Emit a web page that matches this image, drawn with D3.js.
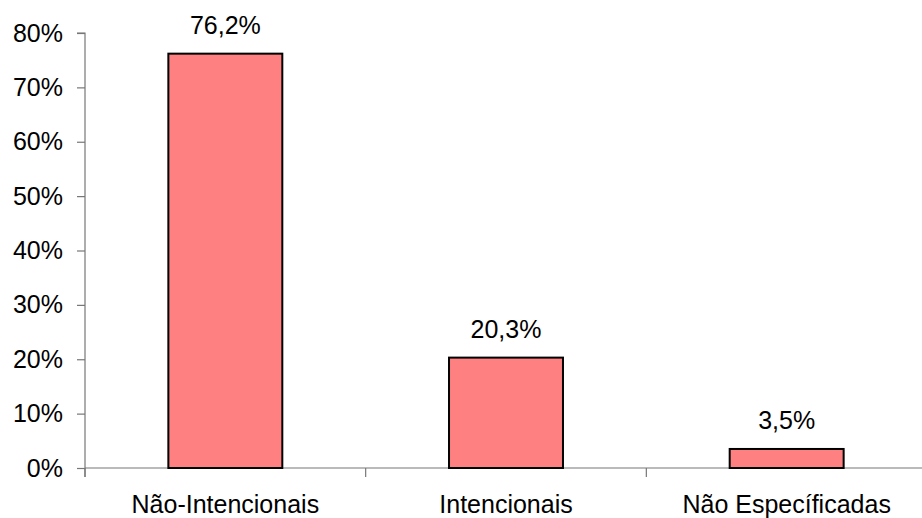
<!DOCTYPE html>
<html>
<head>
<meta charset="utf-8">
<script src="https://cdn.jsdelivr.net/npm/d3@7"></script>
<style>
  html, body { margin: 0; padding: 0; background: #fff; }
  svg { display: block; font-family: "Liberation Sans", Arial, sans-serif; }
</style>
</head>
<body>
<svg id="chart" width="922" height="518"></svg>
<script>
const categories = ["Não-Intencionais", "Intencionais", "Não Específicadas"];
const values = [0.762, 0.203, 0.035];
const valueLabels = ["76,2%", "20,3%", "3,5%"];
const yTicks = [0, 0.1, 0.2, 0.3, 0.4, 0.5, 0.6, 0.7, 0.8];

(function () {
  const svg = d3.select("#chart");
  const plotLeft = 85, plotRight = 927, plotTop = 33, plotBottom = 468;
  const fontSize = 25;

  const x = d3.scaleBand()
    .domain(categories)
    .range([plotLeft, plotRight])
    .paddingInner(0.594)
    .paddingOuter(0.297);

  const y = d3.scaleLinear().domain([0, 0.8]).range([plotBottom, plotTop]);

  const axisColor = "#777";

  // y axis
  const yAxis = d3.axisLeft(y)
    .tickValues(yTicks)
    .tickFormat(d => Math.round(d * 100) + "%")
    .tickSize(8)
    .tickPadding(14);
  const gy = svg.append("g").attr("transform", `translate(${plotLeft},0)`).call(yAxis);
  gy.select(".domain").attr("stroke", axisColor).attr("stroke-width", 1.2)
    .attr("d", `M-8,${plotTop}H0V${plotBottom + 9}`);
  gy.selectAll(".tick line").attr("stroke", axisColor).attr("stroke-width", 1.2);
  gy.selectAll(".tick text").attr("font-size", fontSize).attr("fill", "#000")
    .attr("font-family", "Liberation Sans, Arial, sans-serif");

  // x axis line and category boundary ticks
  const step = x.step();
  const boundaries = d3.range(categories.length + 1).map(i => plotLeft + i * step);
  svg.append("line")
    .attr("x1", plotLeft).attr("x2", plotRight)
    .attr("y1", plotBottom).attr("y2", plotBottom)
    .attr("stroke", axisColor).attr("stroke-width", 1.2);
  svg.selectAll(".xtick").data(boundaries).join("line")
    .attr("class", "xtick")
    .attr("x1", d => d).attr("x2", d => d)
    .attr("y1", plotBottom).attr("y2", plotBottom + 9)
    .attr("stroke", axisColor).attr("stroke-width", 1.2);

  // category labels
  svg.selectAll(".xlabel").data(categories).join("text")
    .attr("class", "xlabel")
    .attr("x", d => x(d) + x.bandwidth() / 2)
    .attr("y", 513)
    .attr("text-anchor", "middle")
    .attr("font-size", fontSize)
    .attr("fill", "#000")
    .text(d => d);

  // bars
  svg.selectAll(".bar").data(values).join("rect")
    .attr("class", "bar")
    .attr("x", (d, i) => x(categories[i]))
    .attr("y", d => y(d))
    .attr("width", x.bandwidth())
    .attr("height", d => plotBottom - y(d))
    .attr("fill", "#FF8080")
    .attr("stroke", "#000")
    .attr("stroke-width", 2);

  // value labels
  svg.selectAll(".vlabel").data(values).join("text")
    .attr("class", "vlabel")
    .attr("x", (d, i) => x(categories[i]) + x.bandwidth() / 2)
    .attr("y", d => y(d) - 20)
    .attr("text-anchor", "middle")
    .attr("font-size", fontSize)
    .attr("fill", "#000")
    .text((d, i) => valueLabels[i]);
})();
</script>
</body>
</html>
